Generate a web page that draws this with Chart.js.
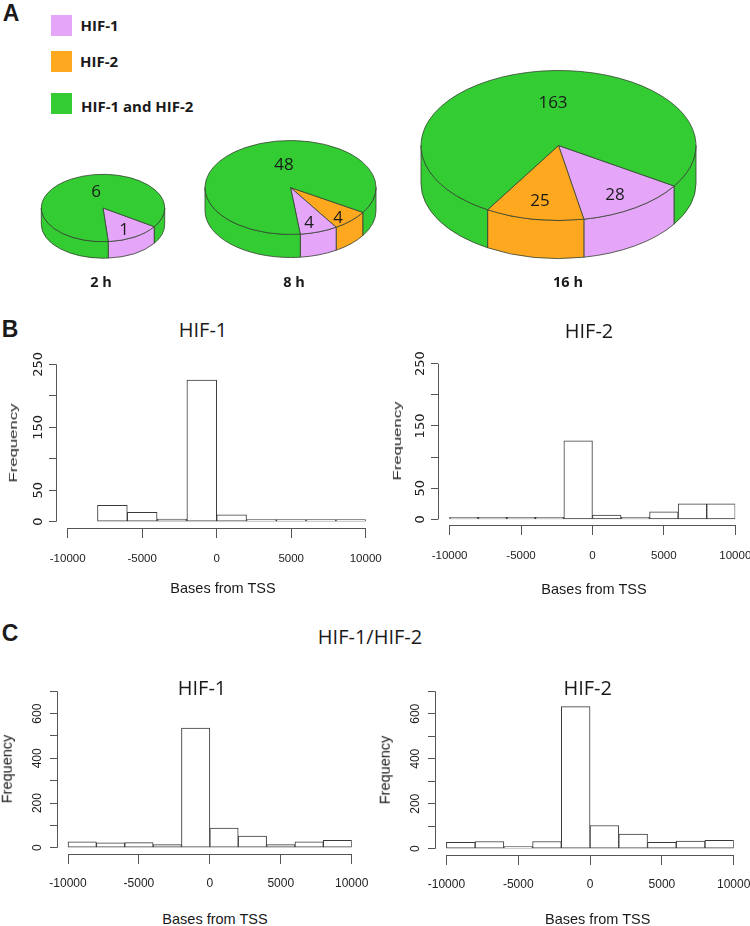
<!DOCTYPE html>
<html>
<head>
<meta charset="utf-8">
<style>
  html, body { margin: 0; padding: 0; background: #fff; }
  #page { position: relative; width: 750px; height: 926px; overflow: hidden; }
  canvas { position: absolute; }
  .lbl { position: absolute; white-space: nowrap; color: #1a1a1a; line-height: 1; }
  .swatch { position: absolute; }
</style>
<script src="https://cdn.jsdelivr.net/npm/chart.js@4/dist/chart.umd.min.js"></script>
</head>
<body>
<div id="page"></div>
<script>
// Panel A: peak counts per time point, listed clockwise as they appear on the pie
const pie2hLabels = ['HIF-1', 'HIF-1 and HIF-2'];
const pie2hValues = [1, 6];
const pie8hLabels = ['HIF-2', 'HIF-1', 'HIF-1 and HIF-2'];
const pie8hValues = [4, 4, 48];
const pie16hLabels = ['HIF-1', 'HIF-2', 'HIF-1 and HIF-2'];
const pie16hValues = [28, 25, 163];
const legendLabels = ['HIF-1', 'HIF-2', 'HIF-1 and HIF-2'];

// Panels B and C: histogram bins, 2000 bases wide
const binCentres = [-9000, -7000, -5000, -3000, -1000, 1000, 3000, 5000, 7000, 9000];
const histB1Values = [0, 26, 15, 4, 225, 11, 1, 2, 1, 2];
const histB2Values = [1, 1, 2, 2, 126, 7, 1, 12, 25, 25];
const histC1Values = [26, 22, 23, 14, 535, 88, 52, 14, 27, 33];
const histC2Values = [28, 32, 8, 32, 632, 103, 65, 28, 34, 37];

const xTicks = [-10000, -5000, 0, 5000, 10000];
const yTicksB = [0, 50, 100, 150, 200, 250];
const yLabelsB = [0, 50, 150, 250];
const yTicksC = [0, 100, 200, 300, 400, 500, 600, 700];
const yLabelsC = [0, 200, 400, 600];

const COLORS = { 'HIF-1': '#E5A6FA', 'HIF-2': '#FDA81E', 'HIF-1 and HIF-2': '#33CC33' };
const page = document.getElementById('page');
const SANS = '"Open Sans", sans-serif';
const R_FONT = '"Liberation Sans", sans-serif';

// Free text placed on the page, centred on x,y unless left is set
function label(text, x, y, font, opts = {}) {
  const el = document.createElement('div');
  el.className = 'lbl';
  el.textContent = text;
  el.style.font = font;
  el.style.lineHeight = '1';
  el.style.left = x + 'px';
  el.style.top = y + 'px';
  const shift = opts.left ? 'translate(0,-50%)' : 'translate(-50%,-50%)';
  el.style.transform = shift + (opts.rotate ? ` rotate(${opts.rotate}deg)` : '') + (opts.squash ? ` scaleY(${opts.squash})` : '');
  page.appendChild(el);
}

function addCanvas(left, top, width, height) {
  const c = document.createElement('canvas');
  c.width = width;
  c.height = height;
  c.style.left = left + 'px';
  c.style.top = top + 'px';
  c.style.width = width + 'px';
  c.style.height = height + 'px';
  page.appendChild(c);
  return c;
}

// Squash the pie into an ellipse and draw its side wall
const pie3d = {
  id: 'pie3d',
  beforeDatasetsDraw(chart, args, opts) {
    const ctx = chart.ctx;
    const arcs = chart.getDatasetMeta(0).data;
    const k = opts.ry / arcs[0].outerRadius;
    const cx = arcs[0].x, cy = arcs[0].y, rx = arcs[0].outerRadius, ry = opts.ry;
    arcs.forEach(arc => {
      // the wall only shows on the front half, angles can run past 360
      [0, 2 * Math.PI].forEach(base => {
        const a0 = Math.max(arc.startAngle, base);
        const a1 = Math.min(arc.endAngle, base + Math.PI);
        if (a1 <= a0) return;
        ctx.beginPath();
        ctx.ellipse(cx, cy, rx, ry, 0, a0, a1);
        ctx.ellipse(cx, cy + opts.depth, rx, ry, 0, a1, a0, true);
        ctx.closePath();
        ctx.fillStyle = arc.options.backgroundColor;
        ctx.fill();
        ctx.lineWidth = 0.8;
        ctx.strokeStyle = '#33402f';
        ctx.stroke();
      });
    });
    ctx.save();
    ctx.translate(cx, cy);
    ctx.scale(1, k);
    ctx.translate(-cx, -cy);
  },
  afterDatasetsDraw(chart) {
    chart.ctx.restore();
  }
};

function makePie(labels, values, g) {
  const side = Math.ceil(g.rx * 2 + 4);
  const canvas = addCanvas(g.cx - side / 2, g.cy - side / 2, side, side);
  new Chart(canvas, {
    type: 'pie',
    data: {
      labels,
      datasets: [{
        data: values,
        backgroundColor: labels.map(l => COLORS[l]),
        borderColor: '#33402f',
        borderWidth: 1
      }]
    },
    options: {
      responsive: false,
      animation: false,
      radius: g.rx,
      rotation: g.rotation,
      plugins: {
        legend: { display: false },
        tooltip: { enabled: false },
        pie3d: { ry: g.ry, depth: g.depth }
      }
    },
    plugins: [pie3d]
  });
  values.forEach((v, i) => label(String(v), g.textAt[i][0], g.textAt[i][1], `17px ${SANS}`));
  label(g.title, g.titleX, 282, `bold 14.5px ${SANS}`);
}

// R style detached axis lines, from first to last tick only
const rAxes = {
  id: 'rAxes',
  afterDraw(chart, args, opts) {
    const { ctx, scales: { x, y }, chartArea } = chart;
    const yAt = Math.round(chartArea.left) + 0.5;
    const xAt = Math.round(chartArea.bottom) + 0.5;
    ctx.save();
    ctx.strokeStyle = opts.color;
    ctx.lineWidth = 1;
    ctx.beginPath();
    ctx.moveTo(yAt, y.getPixelForValue(0));
    ctx.lineTo(yAt, y.getPixelForValue(opts.yTop));
    ctx.moveTo(x.getPixelForValue(xTicks[0]), xAt);
    ctx.lineTo(x.getPixelForValue(xTicks[xTicks.length - 1]), xAt);
    ctx.stroke();
    ctx.restore();
  }
};

function makeHist(values, yTicks, yLabels, g) {
  const left = g.left - 52, top = Math.round(g.top) - 16;
  const width = Math.ceil(g.right + 40 - left), height = Math.ceil(g.bottom + 52 - top);
  const canvas = addCanvas(left, top, width, height);
  new Chart(canvas, {
    type: 'bar',
    data: {
      datasets: [{
        // an empty bin has no bar at all, the lowest ones still show as a line
        data: binCentres.map((c, i) => ({ x: c, y: values[i] || null })),
        backgroundColor: '#fff',
        borderColor: '#3a3a3a',
        borderWidth: 1,
        borderSkipped: false,
        minBarLength: 2,
        barPercentage: 1,
        categoryPercentage: 1
      }]
    },
    options: {
      responsive: false,
      animation: false,
      layout: { padding: { top: g.top - top, right: left + width - g.right, left: 0, bottom: 0 } },
      plugins: {
        legend: { display: false },
        tooltip: { enabled: false },
        rAxes: { color: '#555', yTop: yTicks[yTicks.length - 1] }
      },
      scales: {
        x: {
          type: 'linear',
          offset: false,
          min: g.xMin,
          max: 10000,
          afterBuildTicks: s => { s.ticks = xTicks.map(value => ({ value })); },
          afterFit: s => { s.height = top + height - g.bottom; },
          border: { display: false },
          grid: { offset: false, drawOnChartArea: false, tickLength: 10, tickColor: '#555' },
          ticks: {
            autoSkip: false,
            maxRotation: 0,
            padding: g.xPad,
            color: '#222',
            font: { family: g.xFont, size: g.xSize },
            callback: v => String(v)
          }
        },
        y: {
          min: g.yMin,
          max: yTicks[yTicks.length - 1],
          afterBuildTicks: s => { s.ticks = yTicks.map(value => ({ value })); },
          afterFit: s => { s.width = g.left - left; },
          border: { display: false },
          grid: { drawOnChartArea: false, tickLength: 7, tickColor: '#555' },
          ticks: {
            autoSkip: false,
            minRotation: 90,
            maxRotation: 90,
            crossAlign: 'center',
            padding: g.yPad,
            color: '#222',
            font: { family: g.yFont, size: g.ySize },
            callback: v => yLabels.includes(v) ? String(v) : ''
          }
        }
      }
    },
    plugins: [rAxes]
  });
  label('Bases from TSS', g.xTitle[0], g.xTitle[1], `14.5px ${R_FONT}`);
  label('Frequency', g.yTitle[0], g.yTitle[1], `${g.yTitleSize}px ${R_FONT}`, { rotate: -90, squash: g.yTitleSquash });
  label(g.title, g.titleAt[0], g.titleAt[1], `20px ${SANS}`);
}

// Panel letters
label('A', 11, 13, `bold 23px ${R_FONT}`);
label('B', 10, 329, `bold 23px ${R_FONT}`);
label('C', 10, 633, `bold 23px ${R_FONT}`);

// Legend
[25, 61.5, 103.5].forEach((y, i) => {
  const s = document.createElement('div');
  s.className = 'swatch';
  s.style.cssText = `left:51px;top:${y - 10.5}px;width:21px;height:21px;background:${COLORS[legendLabels[i]]}`;
  page.appendChild(s);
});
label(legendLabels[0], 80.5, 25, `bold 15px ${SANS}`, { left: true });
label(legendLabels[1], 80, 61, `bold 15px ${SANS}`, { left: true });
label(legendLabels[2], 81, 106, `bold 15px ${SANS}`, { left: true });

makePie(pie2hLabels, pie2hValues, {
  cx: 102.7, cy: 208, rx: 61.7, ry: 33.7, depth: 16.5, rotation: 123.7,
  textAt: [[124, 227.5], [96, 189.5]], title: '2 h', titleX: 101
});
makePie(pie8hLabels, pie8hValues, {
  cx: 290.6, cy: 187, rx: 85.5, ry: 47, depth: 23, rotation: 122,
  textAt: [[338, 215.5], [309, 221], [284, 162.5]], title: '8 h', titleX: 294
});
makePie(pie16hLabels, pie16hValues, {
  cx: 558.2, cy: 145.7, rx: 137.5, ry: 75, depth: 38, rotation: 122.7,
  textAt: [[615, 192.5], [540, 198.5], [553, 101]], title: '16 h', titleX: 568
});

const panelB = { xFont: R_FONT, xSize: 11.5, xPad: 14, yFont: '"DejaVu Sans", sans-serif', ySize: 13, yPad: -2, yTitleSize: 16.7, yTitleSquash: 0.68 };
const panelC = { xFont: R_FONT, xSize: 12, xPad: 12, yFont: R_FONT, ySize: 12, yPad: 2, yTitleSize: 14.5 };

makeHist(histB1Values, yTicksB, yLabelsB, Object.assign({}, panelB, {
  left: 56, right: 365.7, top: 364.3, bottom: 528, xMin: -10785, yMin: -10,
  xTitle: [223, 588], yTitle: [14, 443], title: 'HIF-1', titleAt: [203, 330]
}));
makeHist(histB2Values, yTicksB, yLabelsB, Object.assign({}, panelB, {
  left: 438, right: 735.3, top: 363.7, bottom: 525, xMin: -10811, yMin: -9,
  xTitle: [594, 589], yTitle: [398, 441], title: 'HIF-2', titleAt: [589, 331]
}));
makeHist(histC1Values, yTicksC, yLabelsC, Object.assign({}, panelC, {
  left: 57, right: 351.7, top: 691.3, bottom: 854, xMin: -10776, yMin: -28,
  xTitle: [215, 919], yTitle: [7, 769], title: 'HIF-1', titleAt: [202, 688]
}));
makeHist(histC2Values, yTicksC, yLabelsC, Object.assign({}, panelC, {
  left: 435, right: 733.7, top: 691.3, bottom: 855, xMin: -10794, yMin: -28,
  xTitle: [597.7, 919], yTitle: [385, 770], title: 'HIF-2', titleAt: [587.7, 688]
}));

label('HIF-1/HIF-2', 370, 637, `20px ${SANS}`);
</script>
</body>
</html>
